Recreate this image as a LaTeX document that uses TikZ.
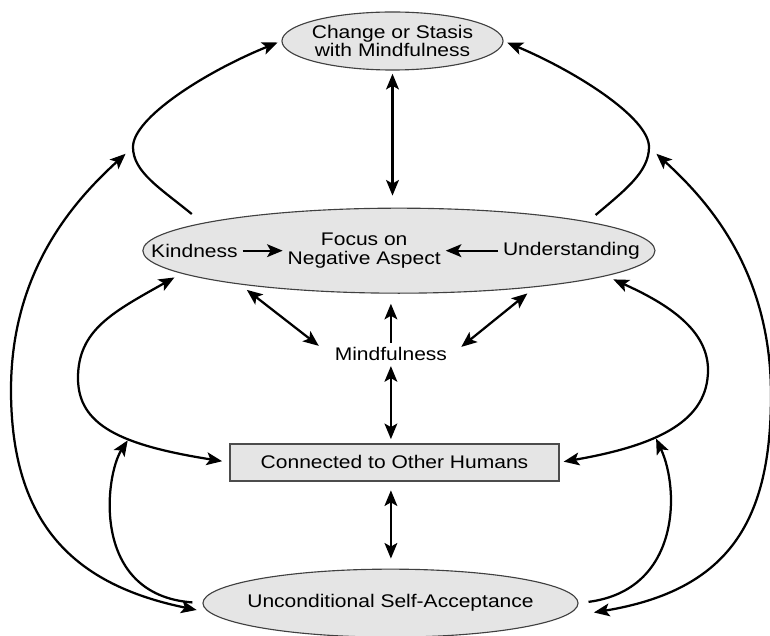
\documentclass[tikz,border=0pt]{standalone}
\usepackage{fontspec}
\setmainfont{Liberation Sans}[FakeStretch=1.15]
\usetikzlibrary{positioning, shapes.geometric, arrows.meta}

\begin{document}
\begin{tikzpicture}[
    x=0.025cm, y=-0.025cm,
    font=\fontsize{13}{13.3}\selectfont,
    oval/.style={ellipse, draw=black!75, fill=black!10, line width=0.8pt, inner sep=0pt, align=center},
    rectbox/.style={rectangle, draw=black!70, fill=black!10, line width=1pt, minimum width=8.225cm, minimum height=0.925cm},
    plain/.style={align=center},
    arrow/.style={->, >={Stealth[length=3.9mm, width=3.2mm, inset=0.9mm]}, line width=1.6pt},
    both/.style={arrow, <->}
]
    \useasboundingbox (0,0) rectangle (770,636);

    \node[oval, inner xsep=-2mm, minimum width=5.525cm, minimum height=1.45cm] (change) at (392.5,41) {Change or Stasis\\with Mindfulness};
    \node[oval, minimum width=12.8cm, minimum height=2.125cm, below=3.425cm of change, xshift=1.6mm] (focus) {};
    \node[plain, right=0.1cm of focus.west] (kind) {Kindness};
    \node[plain, right=1cm of kind] (neg) {Focus on\\Negative Aspect};
    \node[plain, left=0.27cm of focus.east] (underst) {Understanding};
    \node[plain, below=1.225cm of focus, xshift=-2mm] (mind) {Mindfulness};
    \node[rectbox, below=1.925cm of mind, xshift=0.9mm] (box) {Connected to Other Humans};
    \node[oval, inner xsep=-4mm, minimum width=9.375cm, minimum height=1.7cm, below=2.175cm of box, xshift=-1mm] (selfacc) {Unconditional Self-Acceptance};

    % inside the focus ellipse
    \draw[arrow] (kind) -- (neg);
    \draw[arrow] (underst) -- (neg);

    % centre column
    \draw[both, shorten <=0.08cm, shorten >=0.3cm] (change.south) -- (change.south |- focus.north);
    \draw[arrow, shorten >=0.25cm] (mind.north) -- (mind.north |- focus.south);
    \draw[both, shorten >=0.1cm] (mind.south) -- (mind.south |- box.north);
    \draw[both, shorten <=0.22cm, shorten >=0.25cm] (mind.south |- box.south) -- (mind.south |- selfacc.north);
    \draw[both, shorten <=0.22cm, shorten >=0.35cm] (focus.192) -- (mind.west);
    \draw[both, shorten <=0.25cm, shorten >=0.3cm] (focus.345) -- (mind.east);

    % focus -> change, both sides
    \draw[arrow, shorten >=0.1cm] ([yshift=0.28cm]focus.173) .. controls (160,188) and (133,172) .. (133,147) coordinate (tlc)
        .. controls (133,118) and (205,72) .. (change.west);
    \draw[arrow, shorten >=0.1cm] ([yshift=0.2cm]focus.8) .. controls (625,190) and (649,172) .. (649,147) coordinate (trc)
        .. controls (649,118) and (577,72) .. (change.east);

    % focus <-> others, both sides
    \draw[both, shorten <=0.2cm, shorten >=0.18cm] (focus.186) .. controls (113,312) and (78,330) .. (78,378)
        .. controls (78,425) and (120,445) .. (box.west) coordinate[pos=0.6] (mlc);
    \draw[both, shorten <=0.2cm, shorten >=0.1cm] (focus.353) .. controls (668,304) and (708,330) .. (708,370)
        .. controls (708,420) and (660,445) .. (box.east) coordinate[pos=0.6] (mrc);

    % self-acceptance to the outer loops
    \draw[both, shorten <=0.33cm, shorten >=0.25cm] (selfacc.183) .. controls (75,585) and (11,525) .. (11,390)
        .. controls (11,270) and (75,200) .. (tlc);
    \draw[both, shorten <=0.85cm, shorten >=0.25cm] (selfacc.355) .. controls (730,590) and (771,520) .. (771,395)
        .. controls (771,270) and (707,200) .. (trc);
    \draw[arrow, shorten <=0.25cm, shorten >=0.05cm] (selfacc.west) .. controls (90,595) and (105,475) .. (mlc);
    \draw[arrow, shorten <=0.25cm, shorten >=0.05cm] (selfacc.east) .. controls (680,590) and (680,490) .. (mrc);

\end{tikzpicture}
\end{document}
